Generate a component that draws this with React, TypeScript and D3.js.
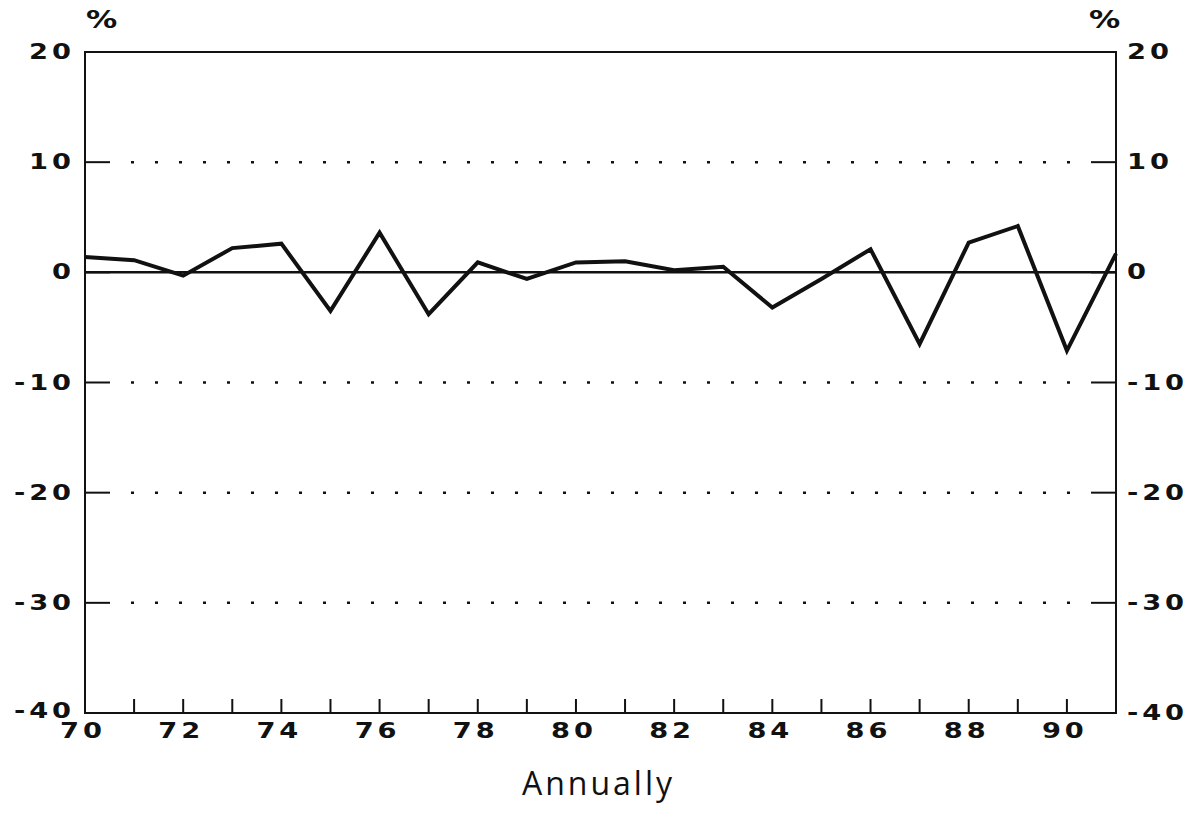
import * as d3 from "d3"

const years = [70, 71, 72, 73, 74, 75, 76, 77, 78, 79, 80, 81, 82, 83, 84, 85, 86, 87, 88, 89, 90, 91]
const values = [1.4, 1.1, -0.3, 2.2, 2.6, -3.5, 3.6, -3.8, 0.9, -0.6, 0.9, 1.0, 0.2, 0.5, -3.2, -0.6, 2.1, -6.5, 2.7, 4.2, -7.1, 1.7]
const yTicks = [20, 10, 0, -10, -20, -30, -40]
const xLabels = [70, 72, 74, 76, 78, 80, 82, 84, 86, 88, 90]
const gridLevels = [10, -10, -20, -30]

const W = 1187
const H = 815
const margin = { top: 52, right: 71, bottom: 102, left: 85 }
const innerW = W - margin.left - margin.right
const innerH = H - margin.top - margin.bottom

const labelFont = "'DejaVu Sans', sans-serif"
const SX = 1.3

// wide, extended lettering like the original plotter font
function Wide({ x, y, anchor, size = 21, spacing = 3, children }: any) {
  // trailing letter-spacing shifts end/middle anchored text, so compensate
  const shift = anchor === "end" ? spacing : anchor === "middle" ? spacing / 2 : 0
  return (
    <g transform={`translate(${x},${y}) scale(${SX},1)`}>
      <text
        x={shift}
        textAnchor={anchor}
        style={{ fontFamily: labelFont, fontWeight: 700, fontSize: size, letterSpacing: spacing, fill: "#111" }}
      >
        {children}
      </text>
    </g>
  )
}

export default function App() {
  const x = d3.scaleLinear().domain([70, 91]).range([0, innerW])
  const y = d3.scaleLinear().domain([-40, 20]).range([innerH, 0])

  const line = d3
    .line<number>()
    .x((_, i) => x(years[i]))
    .y((d) => y(d))

  return (
    <svg width={W} height={H} style={{ position: "absolute", left: 0, top: 0, background: "#fff" }}>
      <g transform={`translate(${margin.left},${margin.top})`}>
        {/* dotted grid */}
        {gridLevels.map((v) => (
          <line
            key={`g${v}`}
            x1={26}
            x2={innerW - 26}
            y1={y(v)}
            y2={y(v)}
            stroke="#111"
            strokeWidth={2.5}
            strokeDasharray="3,21"
            strokeDashoffset={-20}
          />
        ))}

        {/* y ticks, inward on both sides */}
        {yTicks.map((v) => (
          <g key={`t${v}`}>
            <line x1={0} x2={25} y1={y(v)} y2={y(v)} stroke="#111" strokeWidth={2} />
            <line x1={innerW - 25} x2={innerW} y1={y(v)} y2={y(v)} stroke="#111" strokeWidth={2} />
            <Wide x={-14} y={y(v) + (v === -40 ? 5 : 7)} anchor="end">
              {v}
            </Wide>
            <Wide x={innerW + 11} y={y(v) + 7} anchor="start">
              {v}
            </Wide>
          </g>
        ))}

        {/* zero line */}
        <line x1={0} x2={innerW} y1={y(0)} y2={y(0)} stroke="#111" strokeWidth={2.5} />

        {/* x ticks */}
        {years.map((yr) => (
          <line key={`x${yr}`} x1={x(yr)} x2={x(yr)} y1={innerH} y2={innerH - 14} stroke="#111" strokeWidth={2} />
        ))}
        {xLabels.map((yr) => (
          <Wide key={`xl${yr}`} x={x(yr) - 4} y={innerH + 25} anchor="middle">
            {yr}
          </Wide>
        ))}

        {/* frame */}
        <rect x={0} y={0} width={innerW} height={innerH} fill="none" stroke="#111" strokeWidth={2} />

        {/* series */}
        <path d={line(values) ?? ""} fill="none" stroke="#111" strokeWidth={4} strokeLinejoin="miter" />

        {/* unit labels */}
        <Wide x={1} y={-24} anchor="start" size={24} spacing={0}>
          %
        </Wide>
        <Wide x={innerW - 27} y={-24} anchor="start" size={24} spacing={0}>
          %
        </Wide>

        <text
          x={innerW / 2 - 2}
          y={innerH + 82}
          textAnchor="middle"
          style={{ fontFamily: "'Open Sans', sans-serif", fontWeight: 500, fontSize: 32, letterSpacing: 3, fill: "#111" }}
        >
          Annually
        </text>
      </g>
    </svg>
  )
}
